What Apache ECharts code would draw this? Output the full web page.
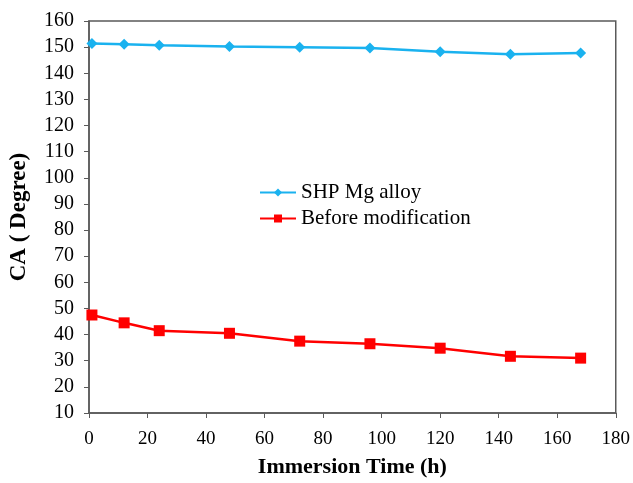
<!DOCTYPE html>
<html>
<head>
<meta charset="utf-8">
<script src="https://cdn.jsdelivr.net/npm/echarts@6/dist/echarts.min.js"></script>
<style>
  html, body { margin: 0; padding: 0; background: #fff; }
  #chart { width: 633px; height: 483px; }
</style>
</head>
<body>
<div id="chart"></div>
<script>
const hours = [1, 12, 24, 48, 72, 96, 120, 144, 168]
const shpMgAlloy = [151.4, 151.1, 150.7, 150.2, 150.0, 149.7, 148.2, 147.3, 147.8]
const beforeModification = [47.5, 44.5, 41.5, 40.5, 37.5, 36.5, 34.8, 31.7, 31.0]

const font = 'Liberation Serif'
const axisColor = '#5a5a5a'

const chart = echarts.init(document.getElementById('chart'))

chart.setOption({
  animation: false,
  grid: {
    left: 89,
    right: 17,
    top: 21,
    bottom: 69,
    show: true,
    borderColor: axisColor,
    borderWidth: 1.5
  },
  legend: {
    orient: 'vertical',
    left: 254,
    top: 177,
    itemGap: 5,
    itemWidth: 36,
    itemHeight: 10,
    textStyle: { fontFamily: font, fontSize: 21, color: '#000' },
    data: ['SHP Mg alloy', 'Before modification']
  },
  xAxis: {
    type: 'value',
    min: 0,
    max: 180,
    interval: 20,
    name: 'Immersion Time (h)',
    nameLocation: 'middle',
    nameGap: 43,
    nameTextStyle: { fontFamily: font, fontSize: 22, fontWeight: 'bold', color: '#000' },
    axisLine: { lineStyle: { color: axisColor, width: 1.5 } },
    axisTick: { show: true, length: 5, lineStyle: { color: axisColor } },
    axisLabel: { fontFamily: font, fontSize: 19, color: '#000', margin: 17 },
    splitLine: { show: false }
  },
  yAxis: {
    type: 'value',
    min: 10,
    max: 160,
    interval: 10,
    name: 'CA ( Degree)',
    nameLocation: 'middle',
    nameGap: 58,
    nameTextStyle: { fontFamily: font, fontSize: 23, fontWeight: 'bold', color: '#000' },
    axisLine: { show: true, lineStyle: { color: axisColor, width: 1.5 } },
    axisTick: { show: true, length: 5, lineStyle: { color: axisColor } },
    axisLabel: { fontFamily: font, fontSize: 20, color: '#000', margin: 15 },
    splitLine: { show: false }
  },
  series: [
    {
      name: 'SHP Mg alloy',
      type: 'line',
      data: hours.map((h, i) => [h, shpMgAlloy[i]]),
      symbol: 'diamond',
      symbolSize: 11,
      color: '#1ab2ef',
      lineStyle: { width: 2.5 }
    },
    {
      name: 'Before modification',
      type: 'line',
      data: hours.map((h, i) => [h, beforeModification[i]]),
      symbol: 'rect',
      symbolSize: 11,
      color: '#ff0000',
      lineStyle: { width: 2.5 }
    }
  ]
})
</script>
</body>
</html>
